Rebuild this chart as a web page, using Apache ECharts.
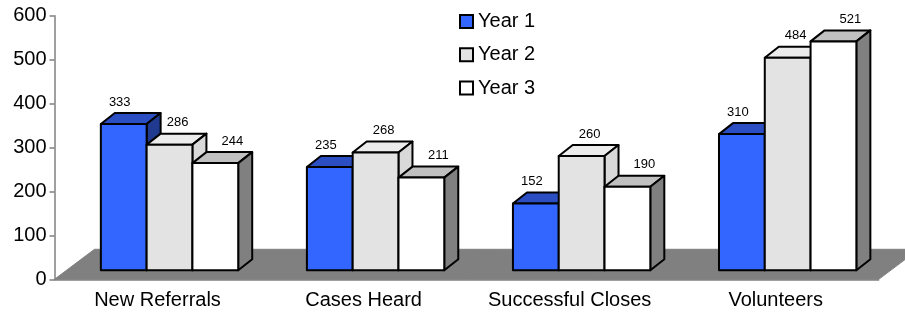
<!DOCTYPE html>
<html>
<head>
<meta charset="utf-8">
<script src="https://cdn.jsdelivr.net/npm/echarts@6/dist/echarts.min.js"></script>
<style>
  html, body { margin: 0; padding: 0; background: #fff; }
  #chart { width: 905px; height: 314px; }
</style>
</head>
<body>
<div id="chart"></div>
<script>
// data
const categories = ['New Referrals', 'Cases Heard', 'Successful Closes', 'Volunteers']
const year1 = [333, 235, 152, 310]
const year2 = [286, 268, 260, 484]
const year3 = [244, 211, 190, 521]
const seriesNames = ['Year 1', 'Year 2', 'Year 3']

// faces: front, top, side
const faceColors = [
  ['#3366ff', '#2b4fc2', '#1f3a8f'],
  ['#e3e3e3', '#ececec', '#d9d9d9'],
  ['#ffffff', '#c0c0c0', '#808080']
]
const labelShift = [-4, 8, 17]
const font = '"Liberation Sans", Arial, sans-serif'

// oblique offsets (front face of bars, then bar depth, then whole floor depth)
const FRONT = [12, -9]
const DEPTH = [14, -11]
const FLOOR = [40, -30]

const chart = echarts.init(document.getElementById('chart'))

function barRender(s) {
  return function (params, api) {
    const idx = api.value(0)
    const val = api.value(1)
    const base = api.coord([idx, 0])
    const top = api.coord([idx, val])
    const band = api.size([1, 0])[0]
    const w = band * 2 / 9
    const x0 = base[0] - 1.5 * w + s * w + FRONT[0]
    const x1 = x0 + w
    const yb = base[1] + FRONT[1]
    const yt = top[1] + FRONT[1]
    const dx = DEPTH[0], dy = DEPTH[1]
    const c = faceColors[s]
    const stroke = { stroke: '#000', lineWidth: 2, lineJoin: 'round' }
    return {
      type: 'group',
      children: [
        {
          type: 'polygon',
          shape: { points: [[x0, yt], [x1, yt], [x1 + dx, yt + dy], [x0 + dx, yt + dy]] },
          style: Object.assign({ fill: c[1] }, stroke)
        },
        {
          type: 'polygon',
          shape: { points: [[x1, yt], [x1 + dx, yt + dy], [x1 + dx, yb + dy], [x1, yb]] },
          style: Object.assign({ fill: c[2] }, stroke)
        },
        {
          type: 'rect',
          shape: { x: x0, y: yt, width: w, height: yb - yt },
          style: Object.assign({ fill: c[0] }, stroke)
        },
        {
          type: 'text',
          style: {
            text: String(val),
            x: x0 + w / 2 + labelShift[s],
            y: yt - 22,
            align: 'center',
            verticalAlign: 'middle',
            font: '13px ' + font,
            fill: '#000'
          }
        }
      ]
    }
  }
}

function floorRender(params, api) {
  const cs = params.coordSys
  const yf = cs.y + cs.height
  return {
    type: 'polygon',
    shape: {
      points: [
        [cs.x, yf], [cs.x + cs.width, yf],
        [cs.x + cs.width + FLOOR[0], yf + FLOOR[1]], [cs.x + FLOOR[0], yf + FLOOR[1]]
      ]
    },
    style: { fill: '#808080', stroke: '#808080' }
  }
}

const yearData = [year1, year2, year3]

const option = {
  animation: false,
  grid: { left: 54.5, right: 26.3, top: 15.7, bottom: 34.7 },
  legend: {
    data: seriesNames,
    orient: 'vertical',
    left: 454,
    top: 6.5,
    icon: 'rect',
    itemWidth: 13,
    itemHeight: 13,
    itemGap: 13.3,
    itemStyle: { borderColor: '#000', borderWidth: 2 },
    textStyle: { fontSize: 20, fontFamily: font, color: '#000', lineHeight: 20 }
  },
  xAxis: {
    type: 'category',
    data: categories,
    axisLine: { lineStyle: { color: '#808080', width: 1.5 } },
    axisTick: { length: 5, lineStyle: { color: '#808080', width: 1.5 } },
    axisLabel: { interval: 0, fontSize: 20, fontFamily: font, color: '#000', margin: 11 },
    splitLine: { show: false }
  },
  yAxis: {
    type: 'value',
    min: 0,
    max: 600,
    interval: 100,
    axisLine: { show: true, lineStyle: { color: '#808080', width: 1.5 } },
    axisTick: { show: true, length: 5, lineStyle: { color: '#808080', width: 1.5 } },
    axisLabel: { fontSize: 20, fontFamily: font, color: '#000', margin: 8 },
    splitLine: { show: false }
  },
  series: [
    {
      type: 'custom',
      name: 'floor',
      renderItem: floorRender,
      data: [[0, 0]],
      silent: true
    }
  ].concat(seriesNames.map(function (name, s) {
    return {
      type: 'custom',
      name: name,
      renderItem: barRender(s),
      encode: { x: 0, y: 1 },
      itemStyle: { color: faceColors[s][0], borderColor: '#000', borderWidth: 2 },
      data: yearData[s].map(function (v, i) { return [i, v] })
    }
  }))
}

chart.setOption(option)
</script>
</body>
</html>
